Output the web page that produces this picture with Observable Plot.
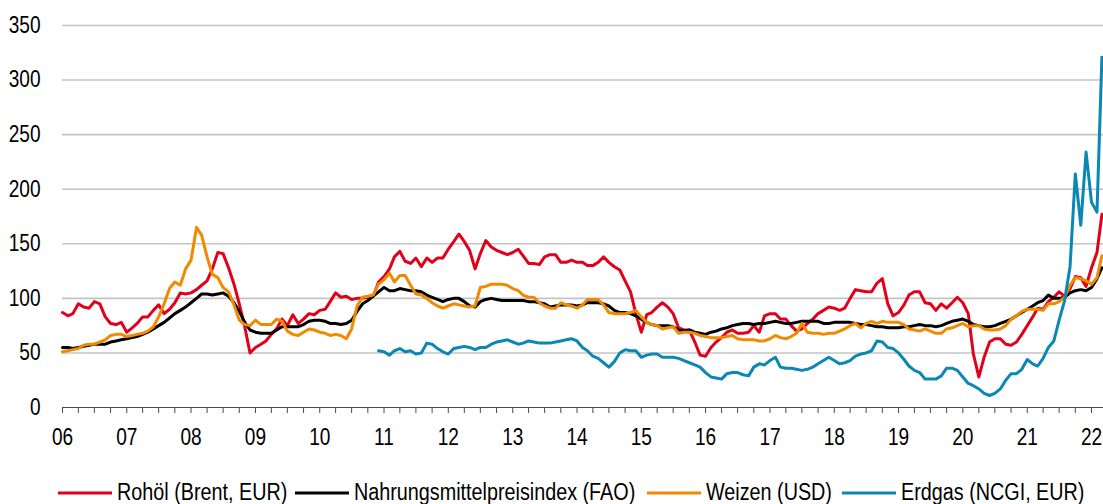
<!DOCTYPE html>
<html>
<head>
<meta charset="utf-8">
<script src="https://cdn.jsdelivr.net/npm/d3@7"></script>
<script src="https://cdn.jsdelivr.net/npm/@observablehq/plot@0.6"></script>
<style>
  html, body { margin: 0; padding: 0; background: #fff; }
  #chart svg, #legend svg { display: block; }
</style>
</head>
<body>
<div id="chart"></div>
<div id="legend"></div>
<script>
// ---------- DATA (monthly, index values) ----------
const startMonth = "2006-01";
const erdgasStartMonth = "2010-12";

const rohoel = [
  87, 84, 86, 95, 92, 91, 97, 95, 83, 77, 76, 78,          // 2006
  69, 73, 77, 83, 83, 89, 94, 86, 90, 96, 105, 104,        // 2007
  105, 108, 112, 116, 127, 142, 141, 128, 113, 95, 74, 50, // 2008
  55, 58, 61, 67, 72, 81, 75, 85, 77, 81, 86, 85,          // 2009
  89, 90, 97, 105, 101, 102, 99, 100, 100, 101, 102, 115,  // 2010
  120, 127, 138, 143, 134, 132, 137, 129, 137, 133, 137, 137, // 2011
  145, 152, 159, 152, 144, 127, 141, 153, 147, 144, 142, 140, // 2012
  142, 145, 139, 132, 132, 131, 138, 140, 140, 133, 133, 135, // 2013
  133, 133, 130, 130, 133, 138, 133, 129, 126, 116, 106, 86,  // 2014
  69, 85, 87, 92, 96, 92, 86, 73, 71, 71, 60, 48,          // 2015
  47, 55, 60, 64, 69, 71, 68, 68, 69, 75, 69, 84,          // 2016
  86, 86, 81, 81, 75, 70, 72, 77, 81, 86, 89, 92,          // 2017
  91, 89, 91, 100, 108, 107, 106, 106, 114, 118, 95, 84,   // 2018
  87, 94, 103, 106, 106, 96, 95, 89, 95, 91, 96, 101,      // 2019
  96, 86, 49, 28, 46, 60, 63, 63, 58, 57, 60, 67,          // 2020
  75, 83, 91, 90, 97, 101, 106, 102, 109, 120, 119, 111,   // 2021
  128, 142, 177                                            // 2022
];

const nahrung = [
  55, 55, 54, 55, 56, 57, 58, 58, 58, 60, 61, 62,
  63, 64, 65, 67, 69, 72, 75, 78, 82, 86, 89, 92,
  96, 100, 104, 104, 103, 104, 105, 102, 96, 88, 78, 71,
  69, 68, 68, 68, 71, 74, 74, 74, 74, 76, 79, 80,
  80, 79, 77, 77, 76, 77, 80, 88, 95, 98, 102, 106,
  110, 107, 107, 109, 108, 107, 107, 106, 103, 101, 99, 97,
  99, 100, 100, 97, 93, 92, 97, 99, 100, 99, 98, 98,
  98, 98, 98, 97, 97, 96, 95, 92, 93, 94, 94, 94,
  93, 94, 96, 96, 96, 95, 93, 89, 87, 87, 86, 84,
  81, 78, 76, 75, 75, 75, 74, 71, 70, 71, 69, 68,
  67, 69, 70, 72, 73, 75, 76, 77, 77, 76, 77, 77,
  78, 79, 78, 77, 77, 78, 79, 79, 79, 79, 77, 77,
  78, 78, 78, 78, 77, 76, 76, 75, 74, 74, 73, 73,
  73, 74, 74, 75, 76, 75, 75, 74, 75, 77, 79, 80,
  81, 79, 76, 75, 74, 74, 75, 77, 79, 81, 84, 87,
  90, 93, 96, 98, 103, 100, 100, 101, 105, 107, 108, 107,
  110, 118, 128
];

const weizen = [
  51, 52, 53, 54, 57, 58, 58, 60, 62, 66, 67, 67,
  65, 66, 67, 68, 70, 74, 83, 95, 109, 115, 112, 127,
  135, 165, 158, 138, 122, 119, 110, 106, 94, 80, 76, 75,
  80, 76, 76, 76, 81, 79, 70, 67, 66, 69, 72, 71,
  69, 68, 66, 67, 66, 63, 72, 93, 101, 102, 103, 113,
  117, 123, 115, 121, 121, 112, 104, 103, 100, 96, 93, 91,
  93, 95, 94, 93, 92, 93, 110, 111, 113, 113, 113, 112,
  109, 107, 103, 101, 101, 96, 93, 91, 91, 96, 94, 93,
  91, 94, 99, 99, 99, 94, 87, 86, 86, 86, 87, 89,
  83, 78, 76, 75, 72, 73, 74, 68, 69, 69, 68, 66,
  65, 64, 64, 64, 65, 66, 63, 62, 62, 62, 61, 61,
  63, 66, 64, 63, 65, 68, 77, 69, 68, 68, 67, 68,
  68, 70, 72, 75, 77, 73, 77, 79, 77, 79, 78, 78,
  78, 76, 72, 71, 70, 72, 70, 68, 68, 72, 73, 75,
  77, 74, 75, 75, 72, 71, 71, 72, 75, 81, 84, 88,
  90, 90, 90, 89, 95, 95, 97, 101, 112, 119, 118, 116,
  113, 119, 139
];

const erdgas = [
  52,                                                  // 2010-12
  51, 48, 52, 54, 51, 52, 49, 50, 59, 58, 54, 51,      // 2011
  49, 54, 55, 56, 55, 53, 55, 55, 58, 60, 61, 62,      // 2012
  60, 58, 59, 61, 60, 59, 59, 59, 60, 61, 62, 63,      // 2013
  61, 55, 52, 47, 45, 41, 37, 42, 50, 53, 52, 52,      // 2014
  46, 48, 49, 49, 46, 46, 46, 45, 43, 41, 39, 37,      // 2015
  32, 28, 27, 26, 31, 32, 32, 30, 29, 37, 40, 39,      // 2016
  43, 46, 37, 36, 36, 35, 34, 35, 37, 40, 43, 46,      // 2017
  43, 40, 41, 43, 47, 49, 50, 52, 61, 60, 55, 54,      // 2018
  50, 44, 38, 34, 32, 26, 26, 26, 29, 36, 36, 34,      // 2019
  28, 22, 20, 17, 13, 11, 13, 17, 25, 31, 31, 35,      // 2020
  44, 40, 38, 45, 55, 61, 80, 98, 129, 214, 167, 234,  // 2021
  188, 179, 321                                        // 2022
];

const seriesNames = ["Rohöl (Brent, EUR)", "Nahrungsmittelpreisindex (FAO)", "Weizen (USD)", "Erdgas (NCGI, EUR)"];
const seriesColors = ["#e2001a", "#000000", "#f08a00", "#0a88b4"];
const yTicks = [0, 50, 100, 150, 200, 250, 300, 350];
const yearLabels = ["06","07","08","09","10","11","12","13","14","15","16","17","18","19","20","21","22"];

// ---------- BUILD ----------
const monthDate = (ym, i) => d3.utcMonth.offset(new Date(ym + "-01T00:00:00Z"), i);
const toRows = (arr, ym, name) => arr.map((v, i) => ({date: monthDate(ym, i), value: v, series: name}));

const seriesData = [
  toRows(rohoel, startMonth, seriesNames[0]),
  toRows(nahrung, startMonth, seriesNames[1]),
  toRows(weizen, startMonth, seriesNames[2]),
  toRows(erdgas, erdgasStartMonth, seriesNames[3])
];

const xStart = new Date("2006-01-01T00:00:00Z");
const xEnd = new Date("2022-03-10T00:00:00Z");
const yearDates = yearLabels.map((_, i) => d3.utcYear.offset(xStart, i));
const quarterDates = d3.utcMonth.every(3).range(xStart, xEnd);

const FONT = "'Liberation Sans', Arial, Helvetica, sans-serif";
const SQUEEZE = 0.83;

const plot = Plot.plot({
  width: 1103,
  height: 466,
  marginLeft: 62,
  marginRight: 0,
  marginTop: 25,
  marginBottom: 59,
  style: {fontFamily: FONT, color: "#000", background: "#fff"},
  x: {type: "utc", domain: [xStart, xEnd], label: null},
  y: {domain: [0, 350], label: null},
  marks: [
    Plot.ruleY(yTicks.filter(d => d > 0), {stroke: "#c4c4c4", strokeWidth: 1.6}),
    Plot.ruleY([0], {stroke: "#4a4a4a", strokeWidth: 1.2}),
    Plot.axisX({ticks: quarterDates, tickSize: 6, stroke: "#4a4a4a", tickFormat: () => "", label: null}),
    Plot.axisX({ticks: yearDates, tickSize: 0, tickPadding: 21, fontSize: 23, label: null,
                tickFormat: d => yearLabels[d.getUTCFullYear() - 2006]}),
    Plot.axisY({ticks: yTicks, tickSize: 0, tickPadding: 22, fontSize: 23, label: null}),
    ...seriesData.map((rows, k) =>
      Plot.line(rows, {x: "date", y: "value", stroke: seriesColors[k], strokeWidth: 3, strokeLinejoin: "round"})
    )
  ]
});

// squeeze text horizontally around its anchor, like the reference typography
plot.querySelectorAll("text").forEach(t => {
  const x = parseFloat(t.getAttribute("x") || 0) || 0;
  const tr = t.getAttribute("transform") || "";
  t.setAttribute("transform", `${tr} translate(${x},0) scale(${SQUEEZE},1) translate(${-x},0)`);
});
document.getElementById("chart").appendChild(plot);

// ---------- LEGEND (below the chart) ----------
const legendSwatchStart = [58, 295, 647, 842];
const lg = d3.select("#legend").append("svg")
  .attr("width", 1103).attr("height", 38)
  .style("font-family", FONT);
seriesNames.forEach((name, k) => {
  const cx = legendSwatchStart[k];
  lg.append("line")
    .attr("x1", cx).attr("x2", cx + 54)
    .attr("y1", 27).attr("y2", 27)
    .attr("stroke", seriesColors[k]).attr("stroke-width", 3.2);
  lg.append("text")
    .attr("x", 0).attr("y", 0)
    .attr("transform", `translate(${cx + 59},34) scale(0.86,1)`)
    .attr("font-size", 23).attr("fill", "#000")
    .text(name);
});
</script>
</body>
</html>
